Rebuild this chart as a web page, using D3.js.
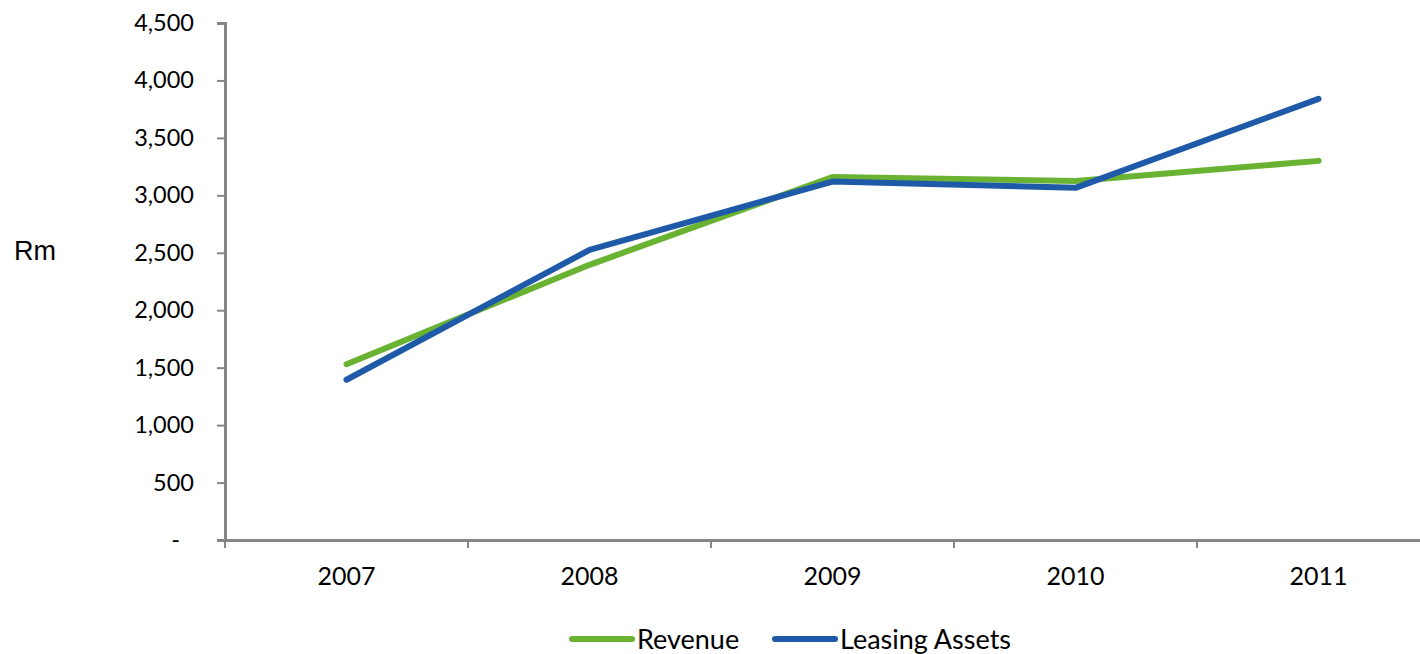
<!DOCTYPE html>
<html><head><meta charset="utf-8">
<script src="https://cdn.jsdelivr.net/npm/d3@7"></script>
<style>body{margin:0;background:#fff}svg{display:block}</style>
</head><body><svg id="c" width="1420" height="654"></svg>
<script>
const years = ["2007","2008","2009","2010","2011"];
const revenue = [1530, 2395, 3160, 3125, 3300];
const leasing = [1395, 2525, 3120, 3065, 3840];
const yTicks = [0,500,1000,1500,2000,2500,3000,3500,4000,4500];
const seriesNames = ["Revenue","Leasing Assets"];
const colors = ["#6AB232","#1E5AA8"];

const svg = d3.select("#c");
const mLeft = 225, mRight = 1440, mTop = 23, mBottom = 540;
const x = d3.scaleBand().domain(years).range([mLeft, mRight]);
const y = d3.scaleLinear().domain([0,4500]).range([mBottom, mTop]);
const font = "Lato, 'Open Sans', sans-serif";

// y axis
const yAxis = svg.append("g").attr("transform",`translate(${mLeft},0)`)
  .call(d3.axisLeft(y).tickValues(yTicks).tickSize(8).tickFormat(d => d===0 ? "-" : d3.format(",")(d)));
yAxis.select(".domain").attr("stroke","#868686").attr("stroke-width",3);
yAxis.selectAll(".tick line").attr("stroke","#868686").attr("stroke-width",2);
yAxis.selectAll(".tick text").attr("font-family",font).attr("font-size",23.5).attr("fill","#000").attr("x",-31)
  .filter(d=>d===0).attr("x",-45);

// x axis
const xAxis = svg.append("g").attr("transform",`translate(0,${mBottom})`)
  .call(d3.axisBottom(x).tickSize(0).tickPadding(27));
xAxis.select(".domain").attr("stroke","#868686").attr("stroke-width",3);
xAxis.selectAll(".tick text").attr("font-family",font).attr("font-size",25).attr("fill","#000");
const bounds = years.map(d=>x(d)).concat([mRight]);
xAxis.selectAll(".bt").data(bounds).enter().append("line")
  .attr("x1",d=>d).attr("x2",d=>d).attr("y1",0).attr("y2",8)
  .attr("stroke","#868686").attr("stroke-width",2);

// Rm label
svg.append("text").attr("x",14).attr("y",260).text("Rm")
  .attr("font-family","'Liberation Sans', Arial, sans-serif").attr("font-size",27).attr("fill","#000");

const line = d3.line().x((d,i)=>x(years[i])+x.bandwidth()/2).y(d=>y(d));
[revenue, leasing].forEach((s,i)=>{
  svg.append("path").datum(s).attr("d",line).attr("fill","none")
    .attr("stroke",colors[i]).attr("stroke-width",6).attr("stroke-linecap","round").attr("stroke-linejoin","round");
});

// legend
const lg = [{x:572, t:seriesNames[0], c:colors[0]},{x:775, t:seriesNames[1], c:colors[1]}];
lg.forEach(l=>{
  svg.append("line").attr("x1",l.x).attr("x2",l.x+60).attr("y1",639).attr("y2",639)
    .attr("stroke",l.c).attr("stroke-width",6).attr("stroke-linecap","round");
  svg.append("text").attr("x",l.x+65).attr("y",649).text(l.t)
    .attr("font-family",font).attr("font-size",27).attr("fill","#000");
});
</script></body></html>
